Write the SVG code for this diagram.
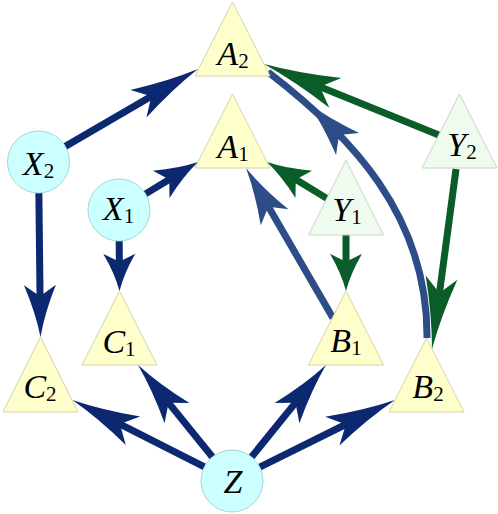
<svg xmlns="http://www.w3.org/2000/svg" xmlns:xlink="http://www.w3.org/1999/xlink" width="498" height="514" viewBox="0 0 498 514">
<style>
.tri{fill:#ffffcc;stroke:#d4d4a6;stroke-width:1}
.trig{fill:#f0fbf0;stroke:#c6d6c6;stroke-width:1}
.cir{fill:#ccffff;stroke:#a8d6d6;stroke-width:1}
.lbl{font-family:"Liberation Serif","Times New Roman",serif;font-size:34px;fill:#000;text-anchor:middle}
.lbl .v{font-style:italic}
.lbl .s{font-size:21px}
.e line,.e path.c{stroke-width:7;fill:none}
.e use{stroke:none}
.navy{fill:#0b2870;stroke:#0b2870}
.blue{fill:#2c4d87;stroke:#2c4d87}
.green{fill:#0a5c28;stroke:#0a5c28}
</style>
<defs>
<path id="ah" d="M0,0 Q-28,4.5 -60,16 L-47,0 L-60,-16 Q-28,-4.5 0,0 Z"/>
</defs>
<g id="connectors">
<g class="e navy" transform="translate(198,69) rotate(-30.25)"><line x1="-153.6" y1="0" x2="-44" y2="0"/><use xlink:href="#ah" href="#ah" transform="scale(1.15,1)"/></g>
<g class="e navy" transform="translate(40.5,337) rotate(89.35)"><line x1="-144" y1="0" x2="-34" y2="0"/><use xlink:href="#ah" href="#ah" transform="scale(0.867,1)"/></g>
<g class="e navy" transform="translate(198,162) rotate(-31.28)"><line x1="-61.4" y1="0" x2="-28" y2="0"/><use xlink:href="#ah" href="#ah" transform="scale(0.717,1)"/></g>
<g class="e navy" transform="translate(119.5,291) rotate(89.65)"><line x1="-50" y1="0" x2="-24" y2="0"/><use xlink:href="#ah" href="#ah" transform="scale(0.62,1)"/></g>
<g class="e green" transform="translate(267,162) rotate(-148.7)"><line x1="-70" y1="0" x2="-28" y2="0"/><use xlink:href="#ah" href="#ah" transform="scale(0.717,1)"/></g>
<g class="e green" transform="translate(346,291) rotate(90)"><line x1="-56" y1="0" x2="-24" y2="0"/><use xlink:href="#ah" href="#ah" transform="scale(0.62,1)"/></g>
<g class="e green" transform="translate(264,64) rotate(-157.92)"><line x1="-188.6" y1="0" x2="-49" y2="0"/><use xlink:href="#ah" href="#ah" transform="scale(1.283,1)"/></g>
<g class="e green" transform="translate(432,349) rotate(97.6)"><line x1="-181.6" y1="0" x2="-46" y2="0"/><use xlink:href="#ah" href="#ah" transform="scale(1.2,1)"/></g>
<g class="e navy" transform="translate(72.4,400) rotate(-153.1)"><line x1="-148" y1="0" x2="-44" y2="0"/><use xlink:href="#ah" href="#ah" transform="scale(1.133,1)"/></g>
<g class="e navy" transform="translate(138,365) rotate(-129)"><line x1="-118.3" y1="0" x2="-40" y2="0"/><use xlink:href="#ah" href="#ah" transform="scale(1.033,1)"/></g>
<g class="e navy" transform="translate(326,365) rotate(-51)"><line x1="-118.3" y1="0" x2="-40" y2="0"/><use xlink:href="#ah" href="#ah" transform="scale(1.033,1)"/></g>
<g class="e navy" transform="translate(395,400) rotate(-26.4)"><line x1="-151" y1="0" x2="-45" y2="0"/><use xlink:href="#ah" href="#ah" transform="scale(1.167,1)"/></g>
<g class="e blue" transform="translate(246,168) rotate(-120.1)"><line x1="-173.4" y1="0" x2="-37" y2="0"/><use xlink:href="#ah" href="#ah" transform="scale(0.95,1)"/></g>
<g class="e blue"><path class="c" d="M427,338 C428,215 350,135 268,72"/><use xlink:href="#ah" href="#ah" transform="translate(308,103) rotate(-134) scale(0.95,1)"/></g>
</g>
<g id="A2"><polygon class="tri" points="232.5,2 270,76 195,76"/><text class="lbl" x="233" y="65"><tspan class="v">A</tspan><tspan class="s" dy="3">2</tspan></text></g>
<g id="A1"><polygon class="tri" points="232.5,94 270,168 195,168"/><text class="lbl" x="233" y="158"><tspan class="v">A</tspan><tspan class="s" dy="3">1</tspan></text></g>
<g id="Y2"><polygon class="trig" points="459.5,94 497,168 422,168"/><text class="lbl" x="462" y="156"><tspan class="v">Y</tspan><tspan class="s" dy="3">2</tspan></text></g>
<g id="Y1"><polygon class="trig" points="346,160 383.5,235 308.5,235"/><text class="lbl" x="347" y="221"><tspan class="v">Y</tspan><tspan class="s" dy="3">1</tspan></text></g>
<g id="C2"><polygon class="tri" points="40.5,337 78,412 3,412"/><text class="lbl" x="40" y="398"><tspan class="v">C</tspan><tspan class="s" dy="3">2</tspan></text></g>
<g id="C1"><polygon class="tri" points="119.5,291 157,365 82,365"/><text class="lbl" x="119" y="353"><tspan class="v">C</tspan><tspan class="s" dy="3">1</tspan></text></g>
<g id="B1"><polygon class="tri" points="346,291 383.5,365 308.5,365"/><text class="lbl" x="346" y="352"><tspan class="v">B</tspan><tspan class="s" dy="3">1</tspan></text></g>
<g id="B2"><polygon class="tri" points="426.5,338 464,412 389,412"/><text class="lbl" x="428" y="398"><tspan class="v">B</tspan><tspan class="s" dy="3">2</tspan></text></g>
<g id="X2"><circle class="cir" cx="38.5" cy="162" r="31"/><text class="lbl" x="38.5" y="175"><tspan class="v">X</tspan><tspan class="s" dy="3">2</tspan></text></g>
<g id="X1"><circle class="cir" cx="119" cy="210" r="31"/><text class="lbl" x="118.5" y="220"><tspan class="v">X</tspan><tspan class="s" dy="3">1</tspan></text></g>
<g id="Z"><circle class="cir" cx="232" cy="481" r="31"/><text class="lbl" x="233" y="493"><tspan class="v">Z</tspan></text></g>
</svg>
